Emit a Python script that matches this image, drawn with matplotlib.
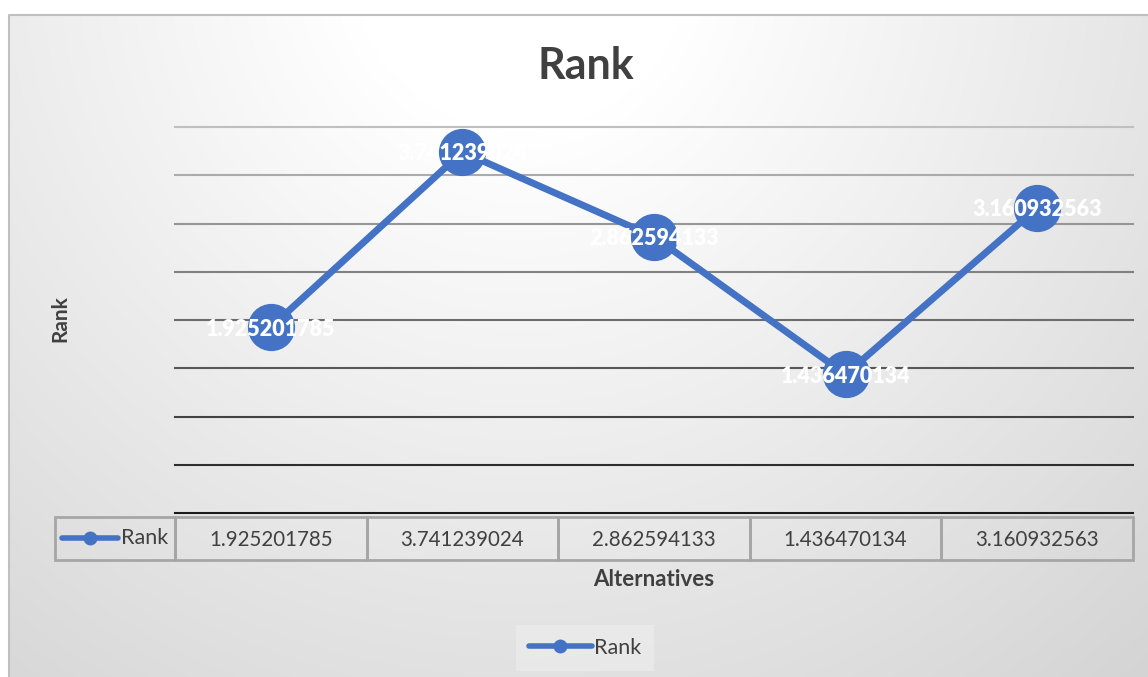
import numpy as np
import matplotlib.pyplot as plt
from matplotlib.patches import Rectangle
from matplotlib.lines import Line2D
import matplotlib.transforms as mtransforms

plt.rcParams['font.family'] = ['Lato', 'DejaVu Sans']

# data
alternatives = ['A1', 'A2', 'A3', 'A4', 'A5']
rank = [1.925201785, 3.741239024, 2.862594133, 1.436470134, 3.160932563]
series_name = 'Rank'
y_ticks = np.arange(0, 4.01, 0.5)

W, H = 1148, 677
blue = '#4472C4'
fig = plt.figure(figsize=(W / 100, H / 100), dpi=100)

# background with soft gradient and border
bg = fig.add_axes([0, 0, 1, 1])
yy, xx = np.mgrid[0:H, 0:W]
d = np.hypot(xx - 520, yy + 40)
v = np.clip(255 - 44 * np.clip(d - 170, 0, None) / 800, 200, 255) / 255.0
img = np.dstack([v, v, v])
img[:15, :, :] = 1.0
img[:, :9, :] = 1.0
bg.imshow(img, extent=[0, W, H, 0], aspect='auto', interpolation='bilinear')
bg.plot([9, 9, W], [H, 15, 15], color='#c0c0c0', lw=1.5)
bg.set_xlim(0, W)
bg.set_ylim(H, 0)
bg.axis('off')

# main plot area
left, right, top, bottom = 175, 1133, 127, 513
ax = fig.add_axes([left / W, 1 - bottom / H, (right - left) / W, (bottom - top) / H])
ax.patch.set_alpha(0)
x = np.arange(len(rank))
ax.set_xlim(-0.5, len(rank) - 0.5)
ax.set_ylim(0, 4)
for s in ax.spines.values():
    s.set_visible(False)
ax.set_xticks([])
ax.set_yticks([])

# gridlines get darker toward the bottom
grid_cols = np.linspace(0.75, 0.1, len(y_ticks))[::-1]
for yt, c in zip(y_ticks, grid_cols):
    ax.axhline(yt, color=str(c), lw=1.5, zorder=1, clip_on=False)

ax.plot(x, rank, color=blue, lw=5, marker='o', markersize=33, zorder=3,
        solid_capstyle='round')
for xi, r in zip(x, rank):
    ax.text(xi, r, f'{r:.9f}', color='white', fontsize=15.5, fontweight='heavy',
            ha='center', va='center_baseline', zorder=4)

# title and axis labels
fig.text(586 / W, 1 - 66 / H, 'Rank', fontsize=31, fontweight='bold',
         color='#404040', ha='center', va='center')
fig.text(60 / W, 1 - 319 / H, 'Rank', fontsize=15, fontweight='bold',
         color='#404040', ha='center', va='center', rotation=90)
fig.text(654 / W, 1 - 579 / H, 'Alternatives', fontsize=16, fontweight='bold',
         color='#404040', ha='center', va='center')

# data table under the plot
px_per_unit = (right - left) / len(rank)
tr = mtransforms.blended_transform_factory(ax.transData, bg.transData)
t_top, t_bot = 517, 560
edge = '#a6a6a6'
for xi, r in zip(x, rank):
    ax.add_patch(Rectangle((xi - 0.5, t_top), 1, t_bot - t_top, transform=tr,
                           fill=False, ec=edge, lw=2, clip_on=False))
    ax.text(xi, (t_top + t_bot) / 2 + 1, f'{r:.9f}', transform=tr, fontsize=14.8,
            color='#404040', ha='center', va='center')
leg_x0 = -0.5 - (left - 55) / px_per_unit
ax.add_patch(Rectangle((leg_x0, t_top), -0.5 - leg_x0, t_bot - t_top, transform=tr,
                       fill=False, ec=edge, lw=2, clip_on=False))
bg.plot([62, 118], [538, 538], color=blue, lw=4, solid_capstyle='round')
bg.plot([90], [538], 'o', color=blue, markersize=9)
bg.text(121, 538, series_name, fontsize=15.5, color='#404040', va='center', ha='left')

# legend at bottom
handle = Line2D([], [], color=blue, lw=4, marker='o', markersize=9,
                solid_capstyle='round')
leg = fig.legend([handle], [series_name], loc='center',
                 bbox_to_anchor=(585 / W, 1 - 648 / H), frameon=True,
                 fontsize=15.5, handlelength=2.9, handletextpad=0.1,
                 borderpad=0.6, fancybox=False)
leg.get_frame().set_facecolor('#ebebeb')
leg.get_frame().set_edgecolor('none')
leg.get_frame().set_alpha(0.8)
for t in leg.get_texts():
    t.set_color('#404040')

fig.savefig('out.png', dpi=100)
